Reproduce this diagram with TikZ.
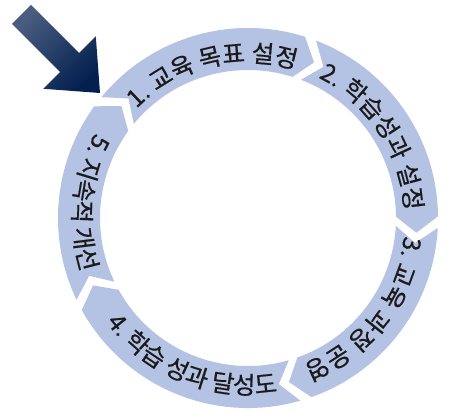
\documentclass[tikz,border=0pt]{standalone}
\usepackage{fontspec}
\newfontfamily\krfont[FakeBold=0.6]{Noto Sans CJK KR}
\usetikzlibrary{decorations.text}
\definecolor{ringblue}{HTML}{B4C3E4}
\definecolor{inkcol}{HTML}{1A1A1A}
\definecolor{navylight}{HTML}{4A5D80}
\definecolor{navydark}{HTML}{04204F}
\newcommand{\steplbl}{\krfont\fontsize{24.5pt}{24.5pt}\selectfont\color{inkcol}}

\begin{document}
\begin{tikzpicture}[x=1pt,y=1pt,
 seg/.style={fill=ringblue,draw=none},
 arclbl/.style={decorate,decoration={text along path,text align=center,text={|\steplbl|#1}}}]
\useasboundingbox (0,0) rectangle (449,412);
% start arrow
\shade[top color=navylight,bottom color=navydark,shading angle=45]
 (12,388) -- (31,407) -- (79.1,358.9) -- (95.8,375.6) -- (100,319) -- (43.4,323.2) -- (60.1,339.9) -- cycle;
\begin{scope}[shift={(248,194)}]
% ring of five arrow segments, tail angle / head angle
\foreach \t/\h in {140.5/72.5,69/0.5,-3/-70.5,-74/-151,205.5/144}
 \fill[seg] (\t:190pt) arc[start angle=\t,end angle=\h,radius=190pt] -- ({\h-5.5}:169pt)
  -- (\h:148pt) arc[start angle=\h,end angle=\t,radius=148pt] -- ({\t-5.5}:169pt) -- cycle;
% labels: clockwise ones sit outside the path, the others inside
\path[arclbl={1. 교육 목표 설정}] (154:156pt) arc[start angle=154,end angle=54,radius=156pt];
\path[arclbl={2. 학습성과 설정}] (83:157pt) arc[start angle=83,end angle=-17,radius=157pt];
\path[arclbl={3. 교육 과정 운영}] (12:157pt) arc[start angle=12,end angle=-88,radius=157pt];
\path[arclbl={4. 학습 성과 달성도}] (-167:176pt) arc[start angle=-167,end angle=-57,radius=176pt];
\path[arclbl={5. 지속적 개선}] (124.5:175pt) arc[start angle=124.5,end angle=224.5,radius=175pt];
\end{scope}
\end{tikzpicture}
\end{document}
